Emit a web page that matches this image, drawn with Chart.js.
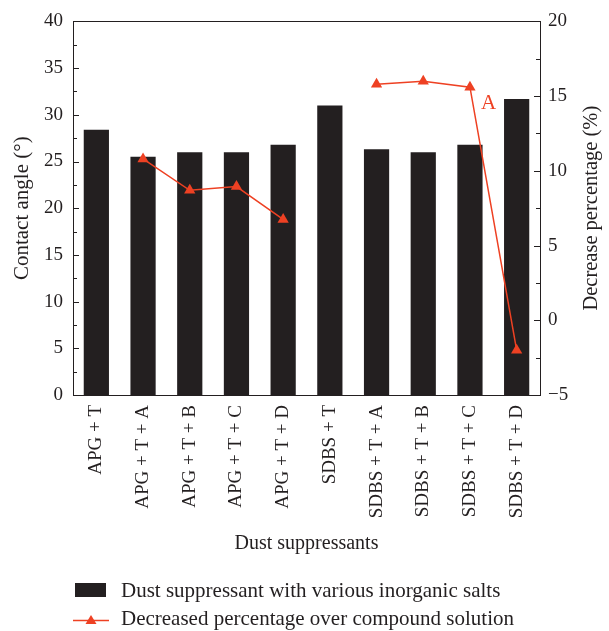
<!DOCTYPE html>
<html>
<head>
<meta charset="utf-8">
<script src="https://cdn.jsdelivr.net/npm/chart.js@4/dist/chart.umd.min.js"></script>
<style>
  html, body { margin: 0; padding: 0; background: #fff; }
  #wrap { position: relative; width: 609px; height: 631px; }
  #c { position: absolute; left: 0; top: 0; }
  .lg { position: absolute; font-family: "Liberation Serif", "DejaVu Serif", serif; font-size: 21px; line-height: 20px; color: #231f20; white-space: nowrap; }
  .box { position: absolute; background: #231f20; }
</style>
</head>
<body>
<div id="wrap">
  <canvas id="c" width="609" height="631"></canvas>
  <div class="box" style="left:75px;top:583px;width:31px;height:14px;"></div>
  <div class="lg" style="left:121px;top:580px;">Dust suppressant with various inorganic salts</div>
  <svg style="position:absolute;left:73px;top:613px;" width="36" height="14">
    <line x1="0" y1="7.5" x2="36" y2="7.5" stroke="#ee4123" stroke-width="1.5"/>
    <polygon points="18,2 23.5,11 12.5,11" fill="#ee4123"/>
  </svg>
  <div class="lg" style="left:121px;top:608px;">Decreased percentage over compound solution</div>
</div>
<script>
const categories = ['APG + T', 'APG + T + A', 'APG + T + B', 'APG + T + C', 'APG + T + D',
                    'SDBS + T', 'SDBS + T + A', 'SDBS + T + B', 'SDBS + T + C', 'SDBS + T + D'];
const contactAngle = [28.4, 25.5, 26.0, 26.0, 26.8, 31.0, 26.3, 26.0, 26.8, 31.7];
const decreasePercentage = [null, 10.8, 8.7, 8.95, 6.75, null, 15.8, 16.0, 15.6, -2.0];
const leftAxisRange = [0, 40, 5];
const rightAxisRange = [-5, 20, 5];
const rightAxisTitle = 'Decrease percentage (%)';
const annotationText = 'A';
const annotationAt = [8.4, 14.5];

const DARK = '#231f20';
const RED = '#ee4123';
const FONT = '"Liberation Serif", "DejaVu Serif", serif';

const frame = {
  id: 'frame',
  afterDraw(chart) {
    const { ctx, chartArea: a, scales } = chart;
    const y = scales.y, y1 = scales.y1, x = scales.x;
    ctx.save();
    ctx.strokeStyle = DARK;
    ctx.lineWidth = 1;
    ctx.beginPath();
    ctx.moveTo(a.left, Math.round(a.top) + 0.5);
    ctx.lineTo(a.right, Math.round(a.top) + 0.5);
    const half = leftAxisRange[2] / 2;
    for (let v = leftAxisRange[0]; v <= leftAxisRange[1] + 1e-9; v += half) {
      const p = Math.round(y.getPixelForValue(v)) + 0.5;
      const len = (Math.abs(v % leftAxisRange[2]) < 1e-9) ? 6 : 4;
      ctx.moveTo(a.left, p); ctx.lineTo(a.left + len, p);
    }
    const half2 = rightAxisRange[2] / 2;
    for (let v = rightAxisRange[0]; v <= rightAxisRange[1] + 1e-9; v += half2) {
      const p = Math.round(y1.getPixelForValue(v)) + 0.5;
      const len = (Math.abs(v % rightAxisRange[2]) < 1e-9) ? 6 : 4;
      ctx.moveTo(a.right, p); ctx.lineTo(a.right - len, p);
    }
    ctx.stroke();
    // right axis title, reading bottom-to-top like the left one
    ctx.fillStyle = DARK;
    ctx.font = '20.5px ' + FONT;
    ctx.textAlign = 'center';
    ctx.textBaseline = 'middle';
    ctx.translate(y1.right - 17, (a.top + a.bottom) / 2);
    ctx.rotate(-Math.PI / 2);
    ctx.fillText(rightAxisTitle, 0, 0);
    ctx.setTransform(1, 0, 0, 1, 0, 0);
    // annotation
    ctx.fillStyle = RED;
    ctx.font = '21px ' + FONT;
    const ax = x.getPixelForValue(annotationAt[0]);
    const ay = y1.getPixelForValue(annotationAt[1]);
    ctx.fillText(annotationText, ax, ay);
    ctx.restore();
  }
};

new Chart(document.getElementById('c'), {
  data: {
    labels: categories,
    datasets: [
      {
        type: 'line',
        label: 'Decreased percentage over compound solution',
        data: decreasePercentage,
        yAxisID: 'y1',
        borderColor: RED,
        backgroundColor: RED,
        borderWidth: 1.5,
        pointStyle: 'triangle',
        pointRadius: 6.5,
        pointBorderWidth: 0,
        spanGaps: false,
        tension: 0,
        order: 0
      },
      {
        type: 'bar',
        label: 'Dust suppressant with various inorganic salts',
        data: contactAngle,
        yAxisID: 'y',
        backgroundColor: DARK,
        borderWidth: 0,
        categoryPercentage: 1,
        barPercentage: 0.54,
        order: 1
      }
    ]
  },
  options: {
    responsive: false,
    animation: false,
    layout: { padding: { top: 19, left: 0, right: 0, bottom: 75 } },
    plugins: { legend: { display: false }, tooltip: { enabled: false } },
    scales: {
      x: {
        grid: { display: false, drawTicks: false },
        border: { display: true, color: DARK, width: 1 },
        ticks: { color: DARK, font: { family: FONT, size: 19 }, minRotation: 90, maxRotation: 90, padding: 10, autoSkip: false },
        title: { display: true, text: 'Dust suppressants', color: DARK, font: { family: FONT, size: 20 }, padding: { top: 0, bottom: 0 } },
        afterFit(s) { s.height = 161; }
      },
      y: {
        position: 'left',
        min: leftAxisRange[0], max: leftAxisRange[1],
        grid: { display: false, drawTicks: false },
        border: { display: true, color: DARK, width: 1 },
        ticks: { stepSize: leftAxisRange[2], color: DARK, font: { family: FONT, size: 19 }, padding: 10 },
        title: { display: true, text: 'Contact angle (°)', color: DARK, font: { family: FONT, size: 21 }, padding: { top: 10, bottom: 0 } },
        afterFit(s) { s.width = 73; }
      },
      y1: {
        position: 'right',
        min: rightAxisRange[0], max: rightAxisRange[1],
        grid: { display: false, drawTicks: false },
        border: { display: true, color: DARK, width: 1 },
        ticks: {
          stepSize: rightAxisRange[2], color: DARK, font: { family: FONT, size: 19 }, padding: 8,
          callback: v => v < 0 ? '\u2212' + Math.abs(v) : String(v)
        },
        title: { display: false },
        afterFit(s) { s.width = 69; }
      }
    }
  },
  plugins: [frame]
});
</script>
</body>
</html>
